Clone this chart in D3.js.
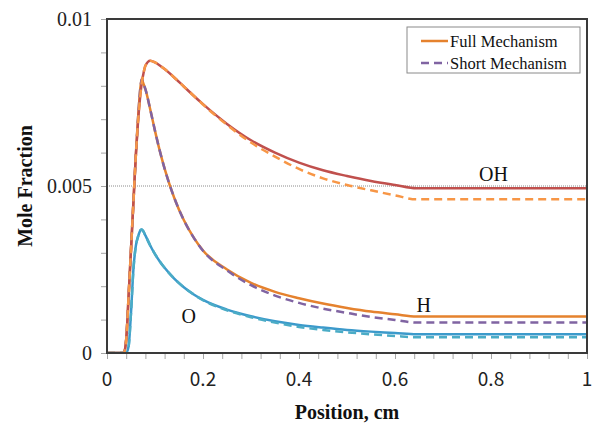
<!DOCTYPE html>
<html>
<head>
<meta charset="utf-8">
<script src="https://cdn.jsdelivr.net/npm/d3@7"></script>
<style>
  html, body { margin: 0; padding: 0; background: #fff; }
  svg { display: block; }
</style>
</head>
<body>
<svg id="chart" width="600" height="427"></svg>
<script>
// Position grid (cm) shared by every species profile
const positions = [0, 0.03, 0.035, 0.04, 0.045, 0.05, 0.055, 0.06, 0.065, 0.07, 0.0725, 0.075,
  0.08, 0.09, 0.1, 0.11, 0.12, 0.14, 0.16, 0.18, 0.2, 0.25, 0.3, 0.35, 0.4, 0.45, 0.5, 0.55,
  0.6, 0.645, 1.0];

// Mole fractions, full mechanism
const ohFull = [0, 0, 0, 0.0004, 0.0017, 0.0031, 0.0045, 0.0059, 0.0070, 0.0078, 0.0081, 0.0083,
  0.0086, 0.00875, 0.0087, 0.00861, 0.0085, 0.00825, 0.00798, 0.00771, 0.00745, 0.00686, 0.00637,
  0.00600, 0.00570, 0.00547, 0.00530, 0.00515, 0.00503, 0.00493, 0.00493];
const hFull = [0, 0, 0, 0.0004, 0.0017, 0.0031, 0.0045, 0.0059, 0.0071, 0.0080, 0.0082, 0.0081,
  0.0079, 0.0073, 0.00665, 0.00605, 0.00552, 0.00465, 0.00398, 0.00347, 0.00307, 0.0025, 0.0021,
  0.00183, 0.00164, 0.00148, 0.00135, 0.00124, 0.00116, 0.00109, 0.00109];
const oFull = [0, 0, 0, 0, 0.0002, 0.0012, 0.0025, 0.0032, 0.0035, 0.00368, 0.0037, 0.00366,
  0.00352, 0.00322, 0.00296, 0.00274, 0.00255, 0.00223, 0.00197, 0.00176, 0.00159, 0.0013, 0.0011,
  0.00095, 0.00084, 0.00076, 0.00069, 0.00064, 0.0006, 0.00056, 0.00056];

// Mole fractions, short mechanism
const ohShort = [0, 0, 0, 0.0004, 0.0017, 0.0031, 0.0045, 0.0059, 0.0070, 0.0078, 0.0081, 0.0083,
  0.0086, 0.00875, 0.0087, 0.00861, 0.0085, 0.00825, 0.00798, 0.00771, 0.00744, 0.00683, 0.00630,
  0.00588, 0.00551, 0.00523, 0.00503, 0.00487, 0.00472, 0.0046, 0.0046];
const hShort = [0, 0, 0, 0.0004, 0.0017, 0.0031, 0.0045, 0.0059, 0.0071, 0.0080, 0.0082, 0.0081,
  0.0079, 0.0073, 0.00665, 0.00605, 0.00552, 0.00465, 0.00398, 0.00347, 0.00306, 0.00247, 0.00203,
  0.00172, 0.00150, 0.00133, 0.00120, 0.00108, 0.00099, 0.00091, 0.00091];
const oShort = [0, 0, 0, 0, 0.0002, 0.0012, 0.0025, 0.0032, 0.0035, 0.00368, 0.0037, 0.00366,
  0.00352, 0.00322, 0.00296, 0.00274, 0.00255, 0.00223, 0.00197, 0.00176, 0.00158, 0.00128, 0.00107,
  0.00091, 0.00078, 0.00069, 0.00062, 0.00056, 0.00051, 0.00047, 0.00047];

const xTicks = [0, 0.2, 0.4, 0.6, 0.8, 1];
const xTickLabels = ["0", "0.2", "0.4", "0.6", "0.8", "1"];
const yTicks = [0, 0.005, 0.01];
const yTickLabels = ["0", "0.005", "0.01"];
const legendLabels = ["Full Mechanism", "Short Mechanism"];
const speciesLabels = ["OH", "H", "O"];
const speciesLabelAt = [[0.775, 0.00515], [0.645, 0.00124], [0.155, 0.00090]];

const series = [
  { values: hFull,   color: "#E5822E", dash: null },
  { values: oFull,   color: "#3C9ACB", dash: null },
  { values: ohFull,  color: "#C0504D", dash: null },
  { values: hShort,  color: "#8064A2", dash: "8,5" },
  { values: oShort,  color: "#4BACC6", dash: "8,5" },
  { values: ohShort, color: "#F79646", dash: "8,5" }
];

const svg = d3.select("#chart");
const m = { left: 107, right: 587, top: 19, bottom: 353 };

const x = d3.scaleLinear().domain([0, 1]).range([m.left, m.right]);
const y = d3.scaleLinear().domain([0, 0.01]).range([m.bottom, m.top]);

// Minor ticks
const tickColor = "#a6a6a6";
svg.append("g")
  .attr("transform", `translate(0,${m.bottom})`)
  .call(d3.axisBottom(x).tickValues(d3.range(0, 1.0001, 0.04)).tickSize(6).tickFormat(""))
  .call(g => g.select(".domain").remove())
  .call(g => g.selectAll("line").attr("stroke", tickColor));
svg.append("g")
  .attr("transform", `translate(${m.left},0)`)
  .call(d3.axisLeft(y).tickValues(d3.range(0, 0.01001, 0.001)).tickSize(6).tickFormat(""))
  .call(g => g.select(".domain").remove())
  .call(g => g.selectAll("line").attr("stroke", tickColor));

// Gridline at the major interval
svg.append("line")
  .attr("x1", m.left).attr("x2", m.right)
  .attr("y1", y(0.005)).attr("y2", y(0.005))
  .attr("stroke", "#8c8c8c").attr("stroke-width", 1).attr("stroke-dasharray", "1,1");

// Tick labels
svg.append("g").selectAll("text").data(xTicks).join("text")
  .attr("x", d => x(d)).attr("y", 386)
  .attr("text-anchor", "middle")
  .attr("font-family", "'Noto Sans CJK KR', 'Noto Sans', sans-serif")
  .attr("font-size", 19).attr("fill", "#222")
  .text((d, i) => xTickLabels[i]);
svg.append("g").selectAll("text").data(yTicks).join("text")
  .attr("x", 92).attr("y", d => y(d) + 7)
  .attr("text-anchor", "end")
  .attr("font-family", "'Liberation Serif', 'Times New Roman', serif")
  .attr("font-size", 20).attr("fill", "#222")
  .text((d, i) => yTickLabels[i]);

// Axis titles
svg.append("text")
  .attr("x", (m.left + m.right) / 2).attr("y", 419)
  .attr("text-anchor", "middle")
  .attr("font-family", "'Liberation Serif', 'Times New Roman', serif")
  .attr("font-weight", "bold").attr("font-size", 20).attr("fill", "#111")
  .text("Position, cm");
svg.append("text")
  .attr("transform", `translate(32,${(m.top + m.bottom) / 2}) rotate(-90)`)
  .attr("text-anchor", "middle")
  .attr("font-family", "'Liberation Serif', 'Times New Roman', serif")
  .attr("font-weight", "bold").attr("font-size", 20).attr("fill", "#111")
  .text("Mole Fraction");

// Profiles
svg.append("clipPath").attr("id", "plot-clip")
  .append("rect").attr("x", m.left).attr("y", m.top)
  .attr("width", m.right - m.left).attr("height", m.bottom - m.top);

const line = d3.line()
  .x(d => x(d[0])).y(d => y(d[1]))
  .curve(d3.curveMonotoneX);

const gLines = svg.append("g").attr("clip-path", "url(#plot-clip)");
series.forEach(s => {
  gLines.append("path")
    .datum(positions.map((p, i) => [p, s.values[i]]))
    .attr("d", line)
    .attr("fill", "none")
    .attr("stroke", s.color)
    .attr("stroke-width", 2.5)
    .attr("stroke-dasharray", s.dash);
});

// Species labels
svg.append("g").selectAll("text").data(speciesLabels).join("text")
  .attr("x", (d, i) => x(speciesLabelAt[i][0]))
  .attr("y", (d, i) => y(speciesLabelAt[i][1]))
  .attr("font-family", "'Liberation Serif', 'Times New Roman', serif")
  .attr("font-size", 20).attr("fill", "#111")
  .text(d => d);

// Plot frame
svg.append("rect")
  .attr("x", m.left).attr("y", m.top)
  .attr("width", m.right - m.left).attr("height", m.bottom - m.top)
  .attr("fill", "none").attr("stroke", "#3a3a3a").attr("stroke-width", 2);

// Legend
const lg = svg.append("g").attr("transform", "translate(407,27)");
lg.append("rect").attr("width", 173).attr("height", 46)
  .attr("fill", "#fff").attr("stroke", "#8a8a8a").attr("stroke-width", 1);
const legendStyles = [
  { color: "#E5822E", dash: null },
  { color: "#8064A2", dash: "8,5" }
];
legendLabels.forEach((lab, i) => {
  const yy = 14 + i * 22;
  lg.append("line")
    .attr("x1", 14).attr("x2", 41).attr("y1", yy).attr("y2", yy)
    .attr("stroke", legendStyles[i].color).attr("stroke-width", 2.5)
    .attr("stroke-dasharray", legendStyles[i].dash);
  lg.append("text")
    .attr("x", 43).attr("y", yy + 5.5)
    .attr("font-family", "'Liberation Serif', 'Times New Roman', serif")
    .attr("font-size", 16.5).attr("fill", "#111")
    .text(lab);
});
</script>
</body>
</html>
